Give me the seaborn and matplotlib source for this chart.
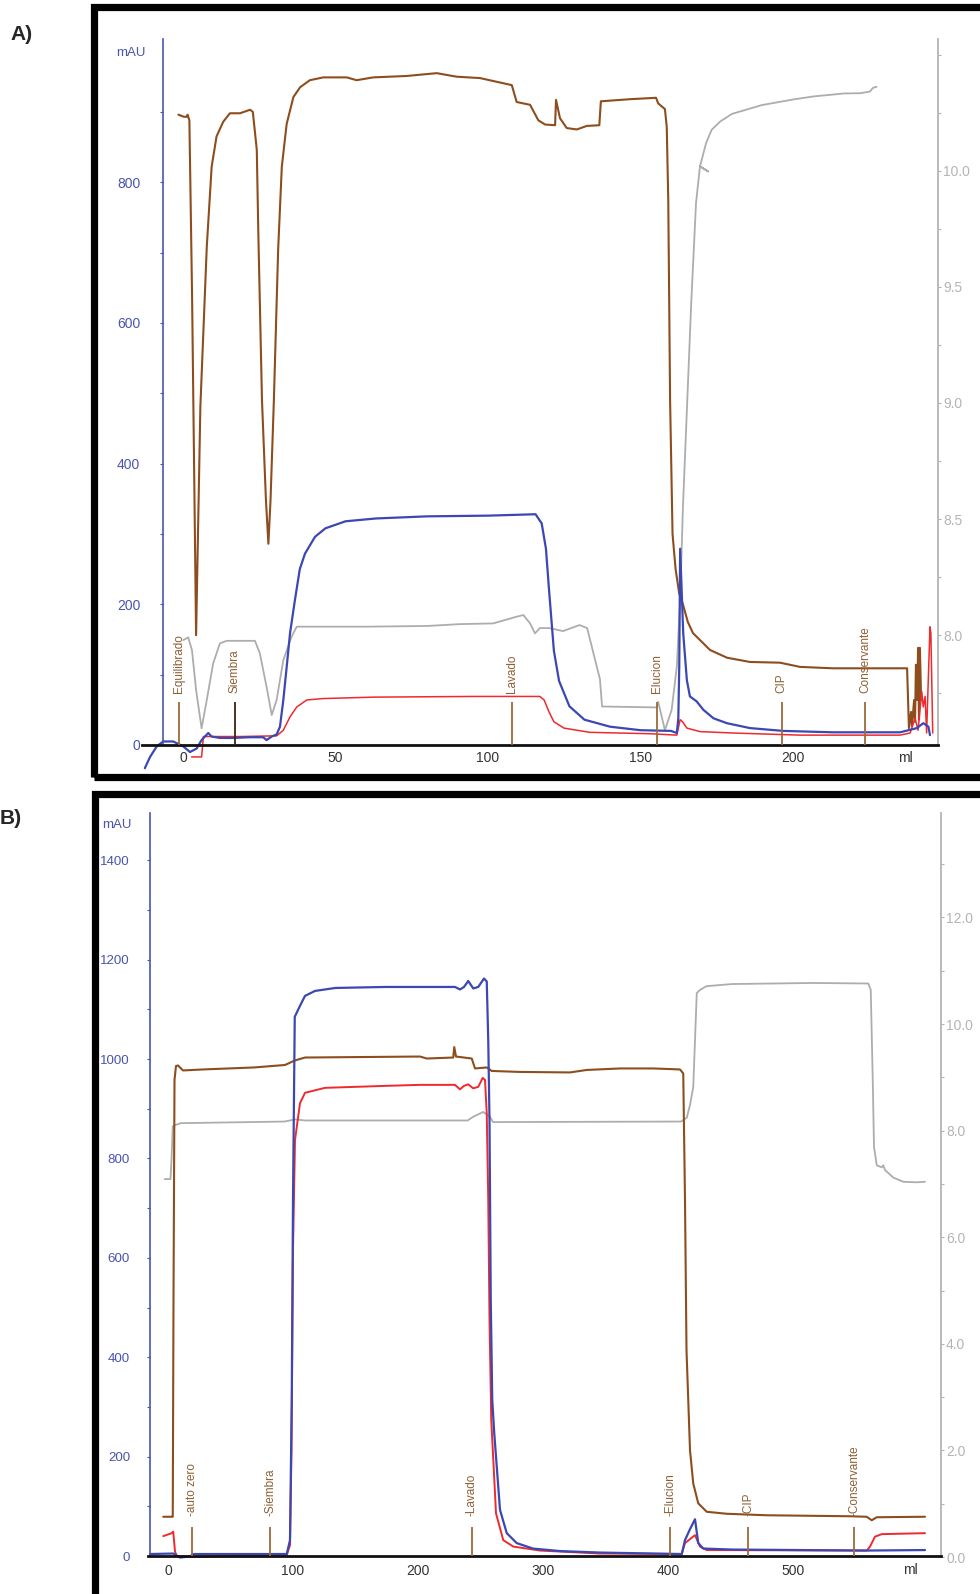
import matplotlib
matplotlib.use("Agg")
import matplotlib.pyplot as plt
import seaborn as sns
from matplotlib.ticker import FixedLocator, FormatStrFormatter, NullFormatter
from matplotlib.patches import Rectangle

sns.set_theme(style="white")
plt.rcParams['font.family'] = ['Liberation Sans', 'DejaVu Sans']

# ---------------- Run A (ml, value) ----------------
A_UV_BLUE = [(-12.5, -33), (-10.8, -17), (-8.6, -2), (-6.5, 5), (-3.2, 5), (0.1, -2), (2.3, -10),
             (4.5, -5), (6.1, 7), (8.3, 17), (9.4, 12), (12.1, 10), (16.5, 10), (22, 11), (26.3, 11),
             (27.4, 7), (29.1, 12), (30.7, 15), (31.8, 26), (32.9, 64), (34, 111), (35.1, 159),
             (36.7, 206), (38.3, 250), (40, 272), (43.3, 296), (46.7, 308), (53.3, 318), (63.3, 322),
             (80, 325), (100, 326), (115.6, 328), (117.6, 315), (119, 279), (120, 221), (121.6, 134),
             (123.3, 91), (126.7, 55), (131.6, 36), (140, 26), (150, 21), (160, 20), (161.9, 17),
             (162.4, 38), (162.7, 111), (163, 279), (164, 159), (165.2, 92), (166.2, 69), (168.4, 62),
             (170.6, 50), (173.9, 38), (178.3, 31), (185.9, 24), (196.8, 20), (213.2, 18), (235.1, 18),
             (240.6, 24), (242.7, 31), (244.4, 26), (244.9, 14)]
A_UV_RED = [(2.8, -17), (6.1, -17), (6.7, 12), (11.1, 12), (18.7, 12), (30.7, 13), (32.9, 21),
            (35.1, 40), (37.3, 54), (40.6, 64), (46, 66), (62.4, 68), (95.2, 69), (117, 69),
            (118.4, 64), (120, 47), (121.6, 33), (124.9, 24), (133.3, 18), (153.1, 16), (161.9, 14),
            (163, 36), (163.8, 33), (165.2, 24), (169.5, 19), (180.4, 17), (202.3, 14), (235.1, 14),
            (238.4, 17), (240, 38), (241, 21), (242.2, 76), (242.7, 54), (243.3, 69), (243.8, 17),
            (244.9, 168), (245.2, 159), (245.8, 17)]
A_COND = [(-1.5, 896), (0.3, 893), (1.2, 893), (1.5, 896), (2.1, 888), (3.0, 633), (4.3, 156),
          (5.7, 481), (7.8, 708), (9.4, 822), (11.0, 865), (13.2, 886), (15.4, 898), (18.7, 898),
          (22, 903), (22.9, 900), (24.2, 846), (24.7, 728), (25.9, 490), (27.2, 348), (28, 286),
          (28.7, 348), (29.8, 490), (31.2, 704), (32.4, 822), (34, 883), (36.2, 921), (38.4, 935),
          (41.6, 945), (46, 949), (53.7, 949), (56.9, 945), (62.4, 949), (73.3, 951), (83.2, 955),
          (89.7, 950), (97.4, 948), (107.8, 938), (109.4, 914), (113.8, 910), (116.5, 888),
          (118.7, 882), (122, 881), (122.3, 917), (123.6, 891), (125.8, 877), (129.1, 875),
          (132.4, 880), (136.5, 881), (137, 915), (146.6, 918), (155.1, 920), (155.8, 912),
          (158, 904), (158.6, 879), (159.1, 775), (159.7, 490), (160.5, 300), (161.5, 250),
          (162.7, 215), (163.9, 200), (165.5, 175), (167.2, 159), (172.8, 135), (178.4, 124),
          (185.9, 118), (195.7, 117), (202.3, 111), (213.1, 109), (224.3, 109), (237.4, 109),
          (238, 24), (238.7, 47), (239, 27), (239.7, 64), (240, 33), (240.3, 114), (240.7, 64),
          (241, 138), (241.3, 36), (241.6, 138), (242, 64)]
A_PH = [(0.1, 7.978), (1.7, 7.99), (2.95, 7.935), (4.3, 7.763), (6.1, 7.598), (7.8, 7.72),
        (9.9, 7.878), (12.1, 7.964), (14.3, 7.975), (23.6, 7.975), (25.2, 7.921), (27.4, 7.777),
        (29.1, 7.655), (30.7, 7.72), (32.9, 7.892), (35.6, 7.993), (37.3, 8.036), (60, 8.036),
        (80, 8.039), (90.8, 8.047), (101.7, 8.05), (109.4, 8.079), (111.6, 8.086), (113.8, 8.05),
        (115.4, 8.007), (117, 8.03), (120, 8.03), (124.6, 8.017), (130, 8.043), (132.5, 8.03),
        (136.7, 7.81), (137.4, 7.692), (155.3, 7.688), (155.8, 7.712), (158, 7.59), (160.2, 7.677),
        (161.9, 7.863), (163, 8.151), (163.9, 8.547), (166.6, 9.422), (168.2, 9.862),
        (169.5, 10.02), (172.2, 9.998), (169.5, 10.02), (171.5, 10.12), (173.3, 10.177),
        (176.1, 10.213), (180, 10.246), (189.8, 10.284), (200, 10.308), (206.6, 10.321),
        (216.7, 10.334), (222, 10.335), (225.2, 10.342), (226.2, 10.358), (227.4, 10.363)]
A_MARK_LABELS = ["Equilibrado", "Siembra", "Lavado", "Elucion", "CIP", "Conservante"]
A_MARK_ML = [-1.3, 17, 107.8, 155.5, 196.3, 223.6]

# ---------------- Run B (ml, value) ----------------
B_UV_BLUE = [(-14.4, 4), (4.2, 5), (9.6, -3), (17.6, -1), (20.2, 4), (95, 4), (97.6, 32), (99, 314),
             (100, 716), (101.4, 1085), (105.6, 1107), (109.6, 1127), (117.6, 1137), (134, 1143),
             (174.4, 1145), (201.6, 1145), (229.6, 1145), (233.6, 1140), (236.8, 1145), (240.2, 1157),
             (244.2, 1142), (248.2, 1145), (252.8, 1162), (255, 1156), (256.2, 1038), (257.2, 877),
             (258.2, 515), (259.4, 314), (261, 247), (265.6, 93), (271, 46), (279, 26), (292, 15),
             (313.6, 10), (345.6, 7), (411, 4), (413.6, 32), (417.6, 54), (421.6, 74), (424.2, 26),
             (428.2, 15), (452.2, 13), (559, 11), (605.6, 12)]
B_UV_RED = [(-3.8, 40), (3, 46), (4.2, 49), (5.6, 9), (7, 0), (17.6, -2), (95, 2), (97.6, 22),
            (98.8, 213), (100, 616), (101.6, 837), (105.6, 911), (109.6, 932), (125.6, 942),
            (174.4, 946), (201.6, 948), (229.6, 948), (233.6, 939), (236.8, 946), (240.2, 949),
            (244.2, 941), (248.2, 944), (251.8, 962), (253.6, 958), (255, 891), (256.2, 716),
            (257.2, 475), (258.6, 274), (262.4, 86), (268.2, 32), (276.2, 19), (297.6, 11), (345.6, 5),
            (411, 4), (413.6, 26), (421.6, 42), (425.6, 19), (431, 12), (559, 11), (561.6, 19),
            (565.6, 39), (571, 44), (605.6, 46)]
B_COND = [(-3.8, 79), (3, 79), (3.8, 79), (4.4, 515), (5.2, 958), (6.4, 986), (8, 987), (12, 977),
          (28, 979), (68.8, 983), (93.6, 988), (101.4, 997), (109.6, 1003), (201.6, 1005), (207, 1001),
          (228.2, 1003), (229, 1024), (230.4, 1005), (243, 1001), (245.6, 981), (255, 983),
          (259, 976), (281.6, 974), (321.6, 973), (335, 978), (361.6, 981), (388.2, 981),
          (409.6, 979), (412.2, 971), (413.6, 716), (414.8, 414), (416.2, 314), (417.6, 213),
          (420.2, 146), (424.2, 106), (431, 89), (447, 85), (479, 82), (545.6, 80), (559, 79),
          (563, 72), (567, 78), (605.6, 79)]
B_PH = [(-2.6, 7.09), (2, 7.09), (2.8, 7.45), (3.8, 8.08), (6.4, 8.11), (10.4, 8.14), (93.3, 8.17),
        (101.6, 8.21), (109.6, 8.19), (239.7, 8.19), (244.2, 8.26), (252.2, 8.35), (257.6, 8.26),
        (260, 8.16), (410.4, 8.17), (415, 8.24), (417.6, 8.48), (420.2, 8.82), (421.6, 9.70),
        (423, 10.58), (425.6, 10.64), (430.8, 10.71), (451.2, 10.75), (516, 10.77), (560.2, 10.76),
        (562.2, 10.64), (563.8, 8.95), (564.8, 7.70), (567, 7.35), (571, 7.31), (572.2, 7.35),
        (573.6, 7.26), (580.2, 7.12), (588.2, 7.04), (599, 7.03), (605.6, 7.04)]
B_MARK_LABELS = ["auto zero", "Siembra", "Lavado", "Elucion", "CIP", "Conservante"]
B_MARK_ML = [19.2, 81.6, 243, 401.6, 464, 549]

# ---------------- styling ----------------
BLUE = '#3b48b3'
RED = '#ee2a2f'
BROWN = '#8d4d1d'
GRAY = '#adadad'
MARK = '#9c6b3a'
MARK_TXT = '#8e6034'
AXIS_BLUE = '#4a55ad'
AXIS_GRAY = '#b4b4b4'

W, H = 980, 1594
fig = plt.figure(figsize=(W / 100, H / 100), dpi=100)
fig.patch.set_facecolor('white')


def px_axes(left, right, top, bottom):
    return fig.add_axes([left / W, 1 - bottom / H, (right - left) / W, (bottom - top) / H])


def curve(ax, pairs, color, lw):
    xs, ys = zip(*pairs)
    sns.lineplot(x=list(xs), y=list(ys), ax=ax, color=color, linewidth=lw,
                 sort=False, estimator=None)


def style_panel(ax, ax2, xlim, ylim, phlim, left_spine_x, mau_major, mau_minor,
                ph_major, ph_minor, ph_fmt, xticks, left_pad, bottom_pad, ph_bottom, lsize):
    ax.set_xlim(*xlim)
    ax.set_ylim(*ylim)
    ax2.set_ylim(*phlim)
    ax.set_zorder(ax2.get_zorder() + 1)
    ax.patch.set_visible(False)

    for s in ('top', 'right'):
        ax.spines[s].set_visible(False)
    ax.spines['left'].set_color(AXIS_BLUE)
    ax.spines['left'].set_linewidth(1.2)
    ax.spines['left'].set_position(('data', left_spine_x))
    ax.spines['left'].set_bounds(0, ylim[1])
    ax.spines['bottom'].set_color('#111111')
    ax.spines['bottom'].set_linewidth(2.0)
    ax.spines['bottom'].set_position(('data', 0))

    for s in ('top', 'left', 'bottom'):
        ax2.spines[s].set_visible(False)
    ax2.spines['right'].set_color(AXIS_GRAY)
    ax2.spines['right'].set_linewidth(1.3)
    ax2.spines['right'].set_bounds(ph_bottom, phlim[1])

    ax.yaxis.set_major_locator(FixedLocator(mau_major))
    ax.yaxis.set_minor_locator(FixedLocator(mau_minor))
    ax.yaxis.set_major_formatter(FormatStrFormatter('%d'))
    ax.tick_params(axis='y', which='both', direction='out', length=2.5, width=0.8,
                   colors=AXIS_BLUE, labelsize=lsize, pad=left_pad, left=True)
    ax.tick_params(axis='y', which='minor', length=2)

    ax.xaxis.set_major_locator(FixedLocator(xticks))
    ax.xaxis.set_major_formatter(FormatStrFormatter('%d'))
    ax.tick_params(axis='x', which='both', length=0, labelsize=10, labelcolor='#333333',
                   pad=bottom_pad)

    ax2.yaxis.set_major_locator(FixedLocator(ph_major))
    ax2.yaxis.set_minor_locator(FixedLocator(ph_minor))
    ax2.yaxis.set_major_formatter(FormatStrFormatter(ph_fmt))
    ax2.yaxis.set_minor_formatter(NullFormatter())
    ax2.tick_params(axis='y', which='both', direction='out', length=2.5, width=0.8,
                    colors=AXIS_GRAY, labelsize=10, pad=1.5, right=True)
    ax2.tick_params(axis='y', which='minor', length=2)
    ax.set_xlabel('')
    ax.set_ylabel('')
    ax2.set_ylabel('')


def marks(ax, labels, positions, line_top, text_base, dark=None):
    for lab, m in zip(labels, positions):
        c = dark if (dark and lab == 'Siembra') else MARK
        ax.plot([m, m], [0, line_top], color=c, lw=1.3, solid_capstyle='butt', zorder=5)
        ax.text(m, text_base, lab, rotation=90, ha='center', va='bottom', fontsize=8.5,
                color=MARK_TXT, zorder=5)


# ---------------- panel A ----------------
axA = px_axes(141.8, 937.9, 39.4, 769.6)
axA2 = axA.twinx()
curve(axA2, A_PH, GRAY, 1.3)
curve(axA, A_COND, BROWN, 1.5)
curve(axA, A_UV_RED, RED, 1.1)
curve(axA, A_UV_BLUE, BLUE, 1.6)
style_panel(axA, axA2, (-13.5, 247.5), (-35, 1003), (7.420, 10.567), -6.5,
            [0, 200, 400, 600, 800], [100, 300, 500, 700, 900],
            [8.0, 8.5, 9.0, 9.5, 10.0], [7.75, 8.25, 8.75, 9.25, 9.75, 10.25, 10.5], '%.1f',
            [0, 50, 100, 150, 200], 14, 4, 7.526, 10)
marks(axA, A_MARK_LABELS, A_MARK_ML, 61, 74, dark='#3a2414')
axA.text(236.7, -18, 'ml', ha='center', va='center', fontsize=10, color='#333333')

# ---------------- panel B ----------------
axB = px_axes(148, 940.5, 813, 1559)
axB2 = axB.twinx()
curve(axB2, B_PH, GRAY, 1.3)
curve(axB, B_COND, BROWN, 1.5)
curve(axB, B_UV_RED, RED, 1.4)
curve(axB, B_UV_BLUE, BLUE, 1.6)
style_panel(axB, axB2, (-16, 618), (-6, 1495), (-0.0375, 13.959), -14.8,
            list(range(0, 1401, 200)), list(range(100, 1400, 200)),
            [0, 2, 4, 6, 8, 10, 12], [1, 3, 5, 7, 9, 11, 13], '%.1f',
            [0, 100, 200, 300, 400, 500], 11.5, 6, 0, 9.6)
marks(axB, ["-" + s for s in B_MARK_LABELS], B_MARK_ML, 58, 80)
axB.text(593.6, -28, 'ml', ha='center', va='center', fontsize=10, color='#333333')

# ---------------- frames and panel letters ----------------
fig.patches.append(Rectangle((93.5 / W, 1 - 777.5 / H), (1000 - 93.5) / W, (777.5 - 7) / H,
                             transform=fig.transFigure, fill=False, lw=5.2, ec='black'))
fig.patches.append(Rectangle((95 / W, 1 - 1620 / H), (1000 - 95) / W, (1620 - 793.5) / H,
                             transform=fig.transFigure, fill=False, lw=5.2, ec='black'))
fig.text(131 / W, 1 - 53 / H, 'mAU', ha='center', va='center', fontsize=9.5, color=AXIS_BLUE)
fig.text(117 / W, 1 - 825 / H, 'mAU', ha='center', va='center', fontsize=9.5, color=AXIS_BLUE)
fig.text(22 / W, 1 - 34 / H, 'A)', ha='center', va='center', fontsize=15, fontweight='bold')
fig.text(11 / W, 1 - 818 / H, 'B)', ha='center', va='center', fontsize=15, fontweight='bold')

fig.savefig('out.png', dpi=100, facecolor='white')
